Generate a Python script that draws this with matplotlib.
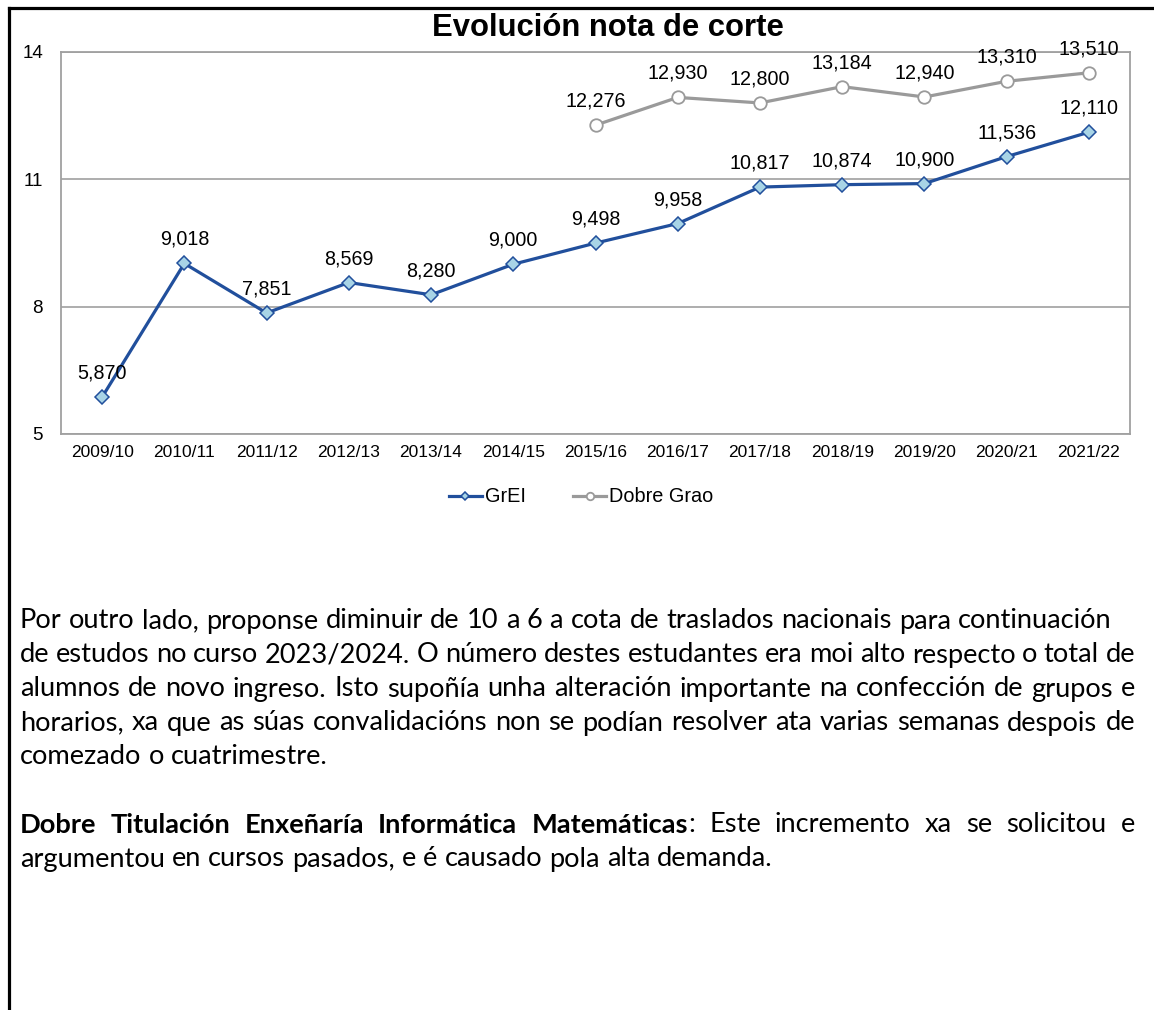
import matplotlib
matplotlib.use("Agg")
import matplotlib.pyplot as plt
from matplotlib.lines import Line2D
import numpy as np

# ---------------- data ----------------
years = ["2009/10", "2010/11", "2011/12", "2012/13", "2013/14", "2014/15", "2015/16",
         "2016/17", "2017/18", "2018/19", "2019/20", "2020/21", "2021/22"]
grei = [5.870, 9.018, 7.851, 8.569, 8.280, 9.000, 9.498, 9.958, 10.817, 10.874, 10.900, 11.536, 12.110]
dobre_years = ["2015/16", "2016/17", "2017/18", "2018/19", "2019/20", "2020/21", "2021/22"]
dobre = [12.276, 12.930, 12.800, 13.184, 12.940, 13.310, 13.510]
yticks = [5, 8, 11, 14]
title = "Evolución nota de corte"
series_names = ["GrEI", "Dobre Grao"]

para1 = [
    "Por outro lado, proponse diminuir de 10 a 6 a cota de traslados nacionais para continuación",
    "de estudos no curso 2023/2024. O número destes estudantes era moi alto respecto o total de",
    "alumnos de novo ingreso. Isto supoñía unha alteración importante na confección de grupos e",
    "horarios, xa que as súas convalidacións non se podían resolver ata varias semanas despois de",
    "comezado o cuatrimestre.",
]
para2_bold = "Dobre Titulación Enxeñaría Informática Matemáticas"
para2_line1_rest = ": Este incremento xa se solicitou e"
para2_line2 = "argumentou en cursos pasados, e é causado pola alta demanda."

# ---------------- figure ----------------
W, H = 1154, 1010
fig = plt.figure(figsize=(W / 100, H / 100), dpi=100)
fig.patch.set_facecolor("white")

def px(x, y):
    return x / W, 1 - y / H

# page border (top and left)
fig.add_artist(Line2D([8.5 / W, 1], [1 - 7.5 / H, 1 - 7.5 / H], color="black", lw=2.3,
                      transform=fig.transFigure))
fig.add_artist(Line2D([8.5 / W, 8.5 / W], [0, 1 - 7.5 / H], color="black", lw=2.3,
                      transform=fig.transFigure))

ax_l, ax_r, ax_t, ax_b = 61, 1130, 52, 434
ax = fig.add_axes([ax_l / W, 1 - ax_b / H, (ax_r - ax_l) / W, (ax_b - ax_t) / H])

xpos = {y: i for i, y in enumerate(years)}
xg = [xpos[y] for y in years]
xd = [xpos[y] for y in dobre_years]

blue = "#214f9c"
gray = "#9a9a9a"

ax.plot(xd, dobre, color=gray, lw=2.3, marker="o", ms=9, mfc="white", mec=gray, mew=1.3,
        label=series_names[1], zorder=3)
ax.plot(xg, grei, color=blue, lw=2.3, marker="D", ms=7, mfc="#a8d4e6", mec=blue, mew=1.1,
        label=series_names[0], zorder=4)

lab_font = dict(family="Liberation Sans", size=14.2, color="black")
for x, v in zip(xg, grei):
    ax.annotate(f"{v:.3f}".replace(".", ","), (x, v), xytext=(0, 24), textcoords="offset pixels",
                ha="center", va="center", zorder=6, **lab_font)
for x, v in zip(xd, dobre):
    ax.annotate(f"{v:.3f}".replace(".", ","), (x, v), xytext=(0, 24), textcoords="offset pixels",
                ha="center", va="center", zorder=6, annotation_clip=False, **lab_font)

ax.set_xlim(-0.5, len(years) - 0.5)
ax.set_ylim(5, 14)
ax.set_yticks(yticks)
ax.set_yticklabels([str(t) for t in yticks], fontfamily="Liberation Sans", fontsize=13.5)
ax.set_xticks(range(len(years)))
ax.set_xticklabels(years, fontfamily="Liberation Sans", fontsize=12.5)
ax.tick_params(axis="both", length=0)
ax.tick_params(axis="y", pad=13)
ax.tick_params(axis="x", pad=8)
ax.grid(axis="y", color="#a0a0a0", lw=1.2)
ax.set_axisbelow(True)
for s in ax.spines.values():
    s.set_color("#a0a0a0")
    s.set_linewidth(1.3)

fig.text(*px(608, 28), title, ha="center", va="center", fontfamily="Liberation Sans",
         fontweight="bold", fontsize=22.3)

handles, labels = ax.get_legend_handles_labels()
order = [1, 0]
leg = fig.legend([handles[i] for i in order], [labels[i] for i in order], loc="center",
                 bbox_to_anchor=px(581, 497), ncol=2, frameon=False,
                 prop=dict(family="Liberation Sans", size=14.3), handlelength=1.65,
                 handletextpad=0.15, columnspacing=2.4, markerscale=0.6)

# ---------------- body text ----------------
body_font = "Lato"
renderer = fig.canvas.get_renderer()

def measure(s, size, weight="normal"):
    t = fig.text(0, 0, s, fontfamily=body_font, fontsize=size, fontweight=weight)
    w = t.get_window_extent(renderer).width
    t.remove()
    return w

ref_w = measure(para1[0], 10)
size = 10 * (1112 - 20) / ref_w

def draw_line(tokens, y, x0=20, x1=None):
    # tokens: list of words; each word is list of (text, weight) segments
    widths = [sum(measure(s, size, w) for s, w in tok) for tok in tokens]
    if x1 is None or len(tokens) < 2:
        gap = measure("a a", size) - measure("aa", size)
    else:
        gap = (x1 - x0 - sum(widths)) / (len(tokens) - 1)
    x = x0
    for tok, wd in zip(tokens, widths):
        xx = x
        for s, w in tok:
            fig.text(xx / W, 1 - y / H, s, fontfamily=body_font, fontsize=size, fontweight=w,
                     va="center", ha="left")
            xx += measure(s, size, w)
        x += wd + gap

def simple_tokens(line):
    return [[(w, "normal")] for w in line.split(" ")]

ys1 = [621, 655, 689, 723, 757]
rights = [1112, 1135, 1135, 1135, None]
for line, y, r in zip(para1, ys1, rights):
    draw_line(simple_tokens(line), y, x1=r)

bold_words = para2_bold.split(" ")
rest_words = para2_line1_rest.split(" ")
tokens = [[(w, "bold")] for w in bold_words[:-1]]
tokens.append([(bold_words[-1], "bold"), (rest_words[0], "normal")])
tokens += [[(w, "normal")] for w in rest_words[1:]]
draw_line(tokens, 825, x1=1135)
draw_line(simple_tokens(para2_line2), 859)

fig.savefig("out.png", dpi=100, facecolor="white")
